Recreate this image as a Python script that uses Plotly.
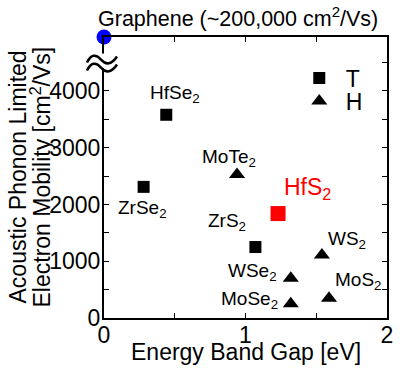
import plotly.graph_objects as go

# ---- data ----
t_names = ["HfSe<sub>2</sub>", "ZrSe<sub>2</sub>", "ZrS<sub>2</sub>"]
t_gap = [0.44, 0.28, 1.07]
t_mob = [3580, 2310, 1250]

h_names = ["MoTe<sub>2</sub>", "WS<sub>2</sub>", "WSe<sub>2</sub>", "MoSe<sub>2</sub>", "MoS<sub>2</sub>"]
h_gap = [0.94, 1.54, 1.32, 1.32, 1.59]
h_mob = [2530, 1110, 700, 250, 350]

hfs2_name = "HfS<sub>2</sub>"
hfs2_gap = [1.23]
hfs2_mob = [1840]

graphene_gap = [0.0]
graphene_mob = [4950]  # broken axis: drawn at top of the axis
graphene_label = "Graphene (~200,000 cm<sup>2</sup>/Vs)"
break_at = 4500
y_top = 4950

y_tickvals = [0, 500, 1000, 1500, 2000, 2500, 3000, 3500, 4000, 4500]
y_ticktext = ["0", "", "1000", "", "2000", "", "3000", "", "4000", ""]
x_tickvals = [0, 0.5, 1, 1.5, 2]
x_ticktext = ["0", "", "1", "", "2"]

x_title = "Energy Band Gap [eV]"
y_title_lines = ["Acoustic Phonon Limited", "Electron Mobility [cm<sup>2</sup>/Vs]"]

FONT = "Liberation Sans, Arial, sans-serif"

fig = go.Figure()
fig.add_trace(go.Scatter(x=t_gap, y=t_mob, mode="markers", name="\u00a0T", legend="legend",
                         marker=dict(symbol="square", size=12, color="black")))
fig.add_trace(go.Scatter(x=h_gap, y=h_mob, mode="markers", name="\u00a0H", legend="legend2",
                         marker=dict(symbol="triangle-up", size=14, color="black")))
fig.add_trace(go.Scatter(x=hfs2_gap, y=hfs2_mob, mode="markers", showlegend=False,
                         marker=dict(symbol="square", size=15, color="#ff0000")))
fig.add_trace(go.Scatter(x=graphene_gap, y=graphene_mob, mode="markers", showlegend=False,
                         cliponaxis=False,
                         marker=dict(symbol="circle", size=15, color="#0000ff")))

# label offsets (pixels) -- style only
t_shift = [(9, 21), (-1, -22), (-28, 25)]
h_shift = [(-8, 16), (25, 15), (-38, 6), (-41, 4), (29, 17)]

ann = []
for n, xv, yv, (dx, dy) in zip(t_names, t_gap, t_mob, t_shift):
    ann.append(dict(x=xv, y=yv, text=n, showarrow=False, xshift=dx, yshift=dy,
                    font=dict(size=19, color="black", family=FONT)))
for n, xv, yv, (dx, dy) in zip(h_names, h_gap, h_mob, h_shift):
    ann.append(dict(x=xv, y=yv, text=n, showarrow=False, xshift=dx, yshift=dy,
                    font=dict(size=19, color="black", family=FONT)))
ann.append(dict(x=hfs2_gap[0], y=hfs2_mob[0], text=hfs2_name, showarrow=False,
                xshift=29, yshift=25, font=dict(size=23, color="#ff0000", family=FONT)))
ann.append(dict(x=graphene_gap[0], y=graphene_mob[0], text=graphene_label, showarrow=False,
                xanchor="left", xshift=-8, yshift=20,
                font=dict(size=21.5, color="black", family=FONT)))
# axis titles
ann.append(dict(xref="paper", yref="paper", x=0.5, y=0, yanchor="top", yshift=-19,
                text=x_title, showarrow=False, font=dict(size=23, color="black", family=FONT)))
for i, line in enumerate(y_title_lines):
    ann.append(dict(xref="paper", yref="paper", x=0, y=0.5, xanchor="center", yanchor="middle",
                    xshift=-87 + 23 * i, textangle=-90, text=line, showarrow=False,
                    font=dict(size=23, color="black", family=FONT)))

fig.update_layout(annotations=ann)

# axis break mark (decoration), paper-referenced so it is not clipped
brk = break_at / y_top
fig.add_shape(type="rect", xref="paper", yref="paper", xsizemode="pixel", ysizemode="pixel",
              xanchor=0, yanchor=brk, x0=-3, x1=3, y0=-6, y1=9,
              fillcolor="white", line=dict(width=0), layer="above")
for yoff in (0, -8):
    fig.add_shape(type="path", xref="paper", yref="paper", xsizemode="pixel", ysizemode="pixel",
                  xanchor=0, yanchor=brk,
                  path=f"M -17,{yoff} Q -11,{yoff+12} -3,{yoff+3} T 13,{yoff+6}",
                  line=dict(color="black", width=2.5), layer="above")

axis_common = dict(showline=True, linecolor="black", linewidth=2, mirror="ticks",
                   ticks="inside", ticklen=5, tickwidth=1, tickcolor="black",
                   showgrid=False, zeroline=False, automargin=False,
                   tickfont=dict(size=23, color="black", family=FONT))

fig.update_xaxes(range=[0, 2], tickvals=x_tickvals, ticktext=x_ticktext,
                 ticklabelstandoff=-5, **axis_common)
fig.update_yaxes(range=[0, y_top], tickvals=y_tickvals, ticktext=y_ticktext,
                 ticklabelstandoff=-3, **axis_common)

leg_common = dict(xanchor="left", yanchor="middle", bgcolor="rgba(0,0,0,0)",
                  itemwidth=30, font=dict(size=23, color="black", family=FONT))
fig.update_layout(width=402, height=369, margin=dict(l=104, r=15, t=37, b=51),
                  plot_bgcolor="white", paper_bgcolor="white",
                  font=dict(family=FONT, color="black"),
                  legend=dict(x=0.69, y=0.854, **leg_common),
                  legend2=dict(x=0.69, y=0.772, **leg_common))

fig.write_html("out.html", config={"displayModeBar": False},
               post_script="document.body.style.margin='0';")
